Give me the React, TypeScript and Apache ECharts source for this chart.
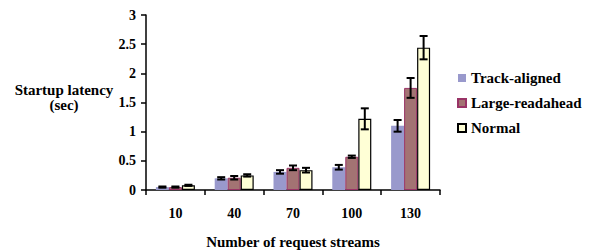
import React, { useEffect, useRef } from "react";
import * as echarts from "echarts";

const categories = ["10", "40", "70", "100", "130"];
const seriesNames = ["Track-aligned", "Large-readahead", "Normal"];
const trackAligned = [0.05, 0.2, 0.31, 0.39, 1.1];
const largeReadahead = [0.05, 0.21, 0.38, 0.57, 1.75];
const normal = [0.08, 0.25, 0.34, 1.22, 2.44];
const trackErr = [0.01, 0.02, 0.03, 0.04, 0.1];
const largeErr = [0.01, 0.03, 0.04, 0.02, 0.17];
const normalErr = [0.01, 0.02, 0.04, 0.18, 0.2];
const yTicks = ["0", "0.5", "1", "1.5", "2", "2.5", "3"];

const FONT = "Liberation Serif";
const BAR_W = 13;

export default function App() {
  const ref = useRef<HTMLDivElement>(null);
  useEffect(() => {
    if (!ref.current) return;
    const chart = echarts.init(ref.current, null, { renderer: "svg" });
    const values = [trackAligned, largeReadahead, normal];
    const errs = [trackErr, largeErr, normalErr];
    const colors = ["#9999cc", "#a37373", "#ffffd6"];
    const borders = ["#9999cc", "#993366", "#000000"];
    const borderWidths = [0, 1, 1.2];

    const errData: number[][] = [];
    values.forEach((vals, s) => {
      vals.forEach((v, i) => {
        errData.push([i, v - errs[s][i], v + errs[s][i], s]);
      });
    });

    const tick = { fontFamily: FONT, fontWeight: "bold", fontSize: 14, color: "#000" };
    const title = { fontFamily: FONT, fontWeight: "bold", fontSize: 15, color: "#000" };

    const option: any = {
      animation: false,
      grid: { left: 146, top: 15, right: 150, bottom: 60, outerBoundsMode: "none", containLabel: false },
      legend: {
        orient: "vertical",
        left: 457,
        top: 70.5,
        padding: 0,
        itemWidth: 8,
        itemHeight: 8,
        itemGap: 10,
        icon: "rect",
        data: seriesNames,
        textStyle: { ...title, lineHeight: 15 },
      },
      xAxis: {
        type: "category",
        data: categories,
        axisLine: { lineStyle: { color: "#000", width: 1.5 } },
        axisTick: { show: true, length: 5, lineStyle: { color: "#000", width: 1.5 } },
        axisLabel: { margin: 16, ...tick },
        name: "Number of request streams",
        nameLocation: "middle",
        nameGap: 44,
        nameTextStyle: title,
      },
      yAxis: {
        type: "value",
        min: 0,
        max: 3,
        interval: 0.5,
        splitLine: { show: false },
        axisLine: { show: true, lineStyle: { color: "#000", width: 1.5 } },
        axisTick: { show: true, length: 5, lineStyle: { color: "#000", width: 1.5 } },
        axisLabel: {
          margin: 10,
          ...tick,
          formatter: (v: number) => yTicks[Math.round(v * 2)] ?? String(v),
        },
      },
      graphic: [
        {
          type: "text",
          x: 64,
          y: 97,
          style: {
            text: "Startup latency\n(sec)",
            align: "center",
            verticalAlign: "middle",
            fontFamily: FONT,
            fontWeight: "bold",
            fontSize: 15,
            lineHeight: 15,
            fill: "#000",
          },
        },
      ],
      series: [
        ...seriesNames.map((name, s) => ({
          name,
          type: "bar",
          data: values[s],
          barWidth: BAR_W,
          barGap: "0%",
          itemStyle: { color: colors[s], borderColor: borders[s], borderWidth: borderWidths[s] },
        })),
        {
          type: "custom",
          name: "err",
          data: errData,
          z: 10,
          renderItem: (params: any, api: any) => {
            const i = api.value(0);
            const s = api.value(3);
            const lo = api.coord([i, api.value(1)]);
            const hi = api.coord([i, api.value(2)]);
            const x = lo[0] + (s - 1) * BAR_W;
            const cap = 4;
            const st = { stroke: "#000", lineWidth: 2 };
            return {
              type: "group",
              children: [
                { type: "line", shape: { x1: x, y1: lo[1], x2: x, y2: hi[1] }, style: st },
                { type: "line", shape: { x1: x - cap, y1: lo[1], x2: x + cap, y2: lo[1] }, style: st },
                { type: "line", shape: { x1: x - cap, y1: hi[1], x2: x + cap, y2: hi[1] }, style: st },
              ],
            };
          },
        },
      ],
    };
    chart.setOption(option);
    return () => chart.dispose();
  }, []);
  return <div ref={ref} style={{ width: 590, height: 250, position: "absolute", left: 0, top: 0 }} />;
}
